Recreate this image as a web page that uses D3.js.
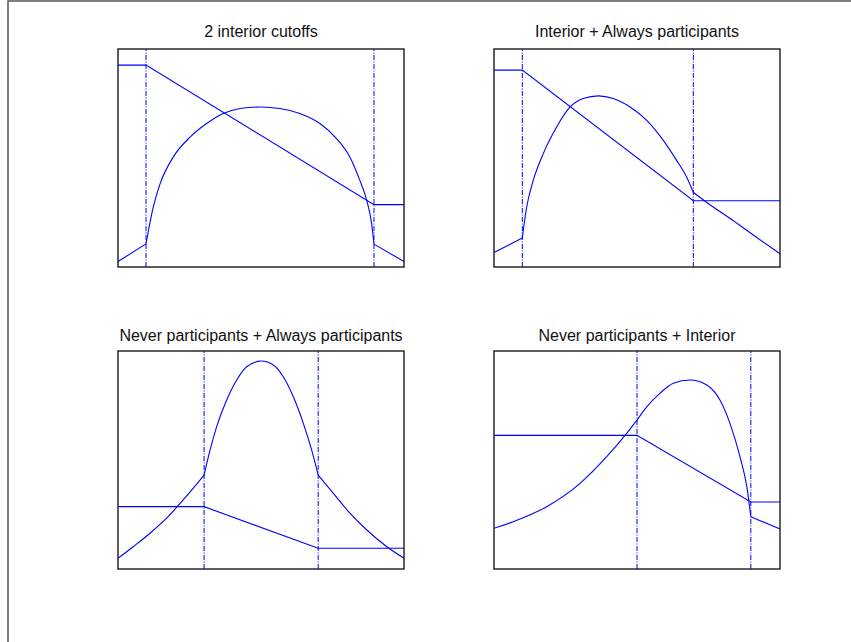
<!DOCTYPE html>
<html>
<head>
<meta charset="utf-8">
<script src="https://cdn.jsdelivr.net/npm/d3@7"></script>
<style>
  body { margin: 0; background: #fff; }
  svg { display: block; }
</style>
</head>
<body>
<svg id="chart" width="851" height="642"></svg>
<script>
// Panel titles
var titles = [
  "2 interior cutoffs",
  "Interior + Always participants",
  "Never participants + Always participants",
  "Never participants + Interior"
];

// Cutoff positions (x, 0-100 scale) per panel
var cutoffs = [[9.8, 89.5], [9.9, 69.7], [30.1, 70.0], [50.0, 89.8]];

// Piecewise linear series per panel [x, y]
var line1 = [[0, 92.6], [9.8, 92.6], [89.5, 28.6], [100, 28.6]];
var line2 = [[0, 90.3], [9.9, 90.3], [69.7, 30.4], [100, 30.4]];
var line3 = [[0, 28.6], [30.1, 28.6], [70.0, 9.5], [100, 9.5]];
var line4 = [[0, 61.3], [50.0, 61.3], [89.8, 30.7], [100, 30.7]];

// Curved series per panel, one array per segment between cutoffs
var curve1 = [
  [[0, 2.5], [9.8, 10.6]],
  [[9.8, 10.6], [12.3, 27.3], [14.7, 38.1], [19.3, 50.4], [25.2, 59.6], [31.0, 65.8],
   [36.8, 70.4], [42.7, 72.7], [49.7, 73.4], [56.6, 72.7], [63.6, 70.4], [70.6, 65.8],
   [76.5, 58.8], [81.1, 50.4], [84.6, 39.6], [87.0, 30.4], [88.7, 19.7], [89.5, 10.5]],
  [[89.5, 10.5], [100, 2.5]]
];
var curve2 = [
  [[0, 6.6], [9.9, 13.3]],
  [[9.9, 13.3], [11.4, 27.3], [13.7, 39.6], [17.2, 51.9], [21.9, 64.2], [26.6, 73.4],
   [31.2, 77.3], [36.5, 78.5], [41.7, 77.3], [47.6, 73.4], [53.4, 67.3], [59.2, 58.1],
   [63.9, 48.8], [67.4, 41.2], [69.7, 34.2]],
  [[69.7, 34.2], [74.4, 29.6], [83.7, 21.2], [91.9, 13.5], [100, 6.1]]
];
var curve3 = [
  [[0, 4.9], [5.3, 10.2], [11.2, 16.4], [17.0, 23.3], [22.8, 31.7], [30.1, 43.1]],
  [[30.1, 43.1], [32.2, 54.6], [34.5, 65.3], [38.0, 77.5], [41.5, 86.7], [45.0, 92.8],
   [50.2, 95.4], [54.3, 93.6], [57.8, 88.2], [61.3, 79.0], [64.8, 66.8], [67.7, 54.6],
   [70.0, 43.1]],
  [[70.0, 43.1], [75.3, 34.7], [81.1, 25.6], [87.0, 17.9], [94.0, 10.2], [100, 4.9]]
];
var curve4 = [
  [[0, 18.7], [6.7, 21.7], [18.4, 28.6], [30.1, 39.3], [39.4, 51.5], [46.4, 62.2], [50.0, 68.3]],
  [[50.0, 68.3], [53.4, 74.4], [58.0, 80.6], [62.7, 85.2], [68.5, 86.7], [74.4, 84.4],
   [79.0, 77.5], [82.5, 66.8], [86.0, 51.5], [88.4, 37.8], [89.8, 24.0]],
  [[89.8, 24.0], [100, 18.3]]
];

var lines = [line1, line2, line3, line4];
var curves = [curve1, curve2, curve3, curve4];

var svg = d3.select("#chart");

// figure frame (runs off the right and bottom edges)
svg.append("rect")
  .attr("x", 8).attr("y", 1)
  .attr("width", 1000).attr("height", 1000)
  .attr("fill", "none")
  .attr("stroke", "#555")
  .attr("stroke-width", 1.5);

var cols = [118, 494], rows = [49, 351], titleY = [37, 341];
var pw = 286, ph = 218;

titles.forEach(function(title, i) {
  var r = Math.floor(i / 2);
  var left = cols[i % 2], top = rows[r];
  var x = d3.scaleLinear().domain([0, 100]).range([left, left + pw]);
  var y = d3.scaleLinear().domain([0, 100]).range([top + ph, top]);
  var g = svg.append("g");

  var path = d3.line()
    .x(function(d) { return x(d[0]); })
    .y(function(d) { return y(d[1]); });
  var smooth = d3.line()
    .x(function(d) { return x(d[0]); })
    .y(function(d) { return y(d[1]); })
    .curve(d3.curveMonotoneX);

  // cutoff lines
  g.selectAll(".cut")
    .data(cutoffs[i])
    .enter().append("line")
    .attr("x1", function(d) { return x(d); })
    .attr("x2", function(d) { return x(d); })
    .attr("y1", y(0)).attr("y2", y(100))
    .attr("stroke", "#0000ff")
    .attr("stroke-width", 1)
    .attr("stroke-dasharray", "5,1.5,1,1.5");

  g.append("path")
    .attr("d", path(lines[i]))
    .attr("fill", "none")
    .attr("stroke", "#0000ff")
    .attr("stroke-width", 1.1);

  curves[i].forEach(function(seg) {
    g.append("path")
      .attr("d", (seg.length > 2 ? smooth : path)(seg))
      .attr("fill", "none")
      .attr("stroke", "#0000ff")
      .attr("stroke-width", 1.1);
  });

  // axes box
  g.append("rect")
    .attr("x", left).attr("y", top)
    .attr("width", pw).attr("height", ph)
    .attr("fill", "none")
    .attr("stroke", "#1a1a1a")
    .attr("stroke-width", 1.4);

  g.append("text")
    .attr("x", left + pw / 2)
    .attr("y", titleY[r])
    .attr("text-anchor", "middle")
    .attr("font-family", "Liberation Sans, Arial, sans-serif")
    .attr("font-size", 16)
    .attr("fill", "#111")
    .text(title);
});
</script>
</body>
</html>
